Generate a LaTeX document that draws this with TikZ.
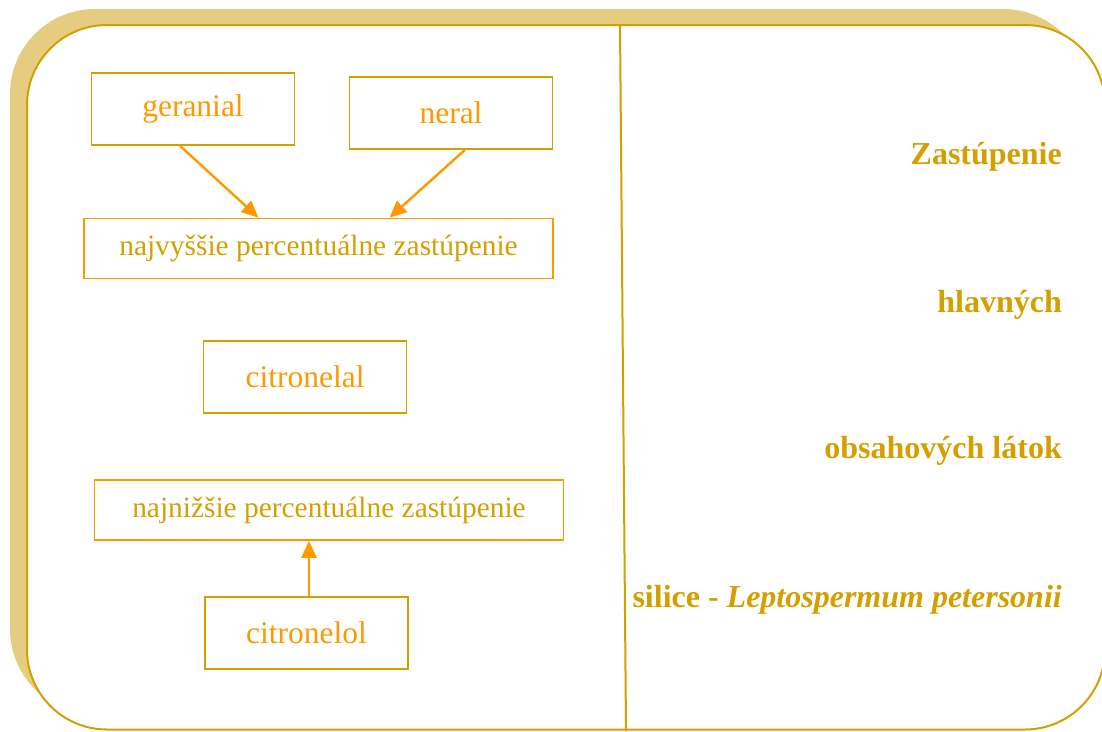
\documentclass[tikz,border=0pt]{standalone}
\usepackage{fontspec}
\setmainfont{Liberation Serif}
\usetikzlibrary{arrows.meta}
\definecolor{gold}{HTML}{D4A000}
\definecolor{paleGold}{HTML}{E6CC80}
\definecolor{amber}{HTML}{FF9900}

\begin{document}
\begin{tikzpicture}[x=1pt,y=-1pt,
  goldbox/.style={draw=gold,line width=1.6pt,text=amber,font=\fontsize{31.5}{36}\selectfont,
    minimum width=203pt,minimum height=72pt,inner sep=0pt},
  amberbox/.style={draw=amber,line width=1.6pt,text=gold,font=\fontsize{29.4}{34}\selectfont,
    minimum width=469pt,minimum height=60pt,inner sep=0pt},
  title/.style={anchor=base east,text=gold,font=\bfseries\fontsize{32}{38}\selectfont,inner sep=0pt},
  link/.style={amber,line width=2.4pt,-{Triangle[length=17pt,width=15pt]}}]
  \useasboundingbox (0,0) rectangle (1102,731);
  % frame with its shadow
  \fill[paleGold,rounded corners=85pt] (10,9) rectangle (1088,714);
  \filldraw[fill=white,draw=gold,line width=2pt,rounded corners=80pt] (27,25) rectangle (1105,729.5);
  \draw[gold,line width=2pt] (620,25) -- (626,731);

  \node[goldbox] (geranial) at (193,109) {geranial};
  \node[goldbox] (neral) at (451,113) {neral};
  \node[amberbox] (top) at (318.5,248.5) {najvyššie percentuálne zastúpenie};
  \node[goldbox] (citronelal) at (305,377) {citronelal};
  \node[amberbox] (bottom) at (329,510) {najnižšie percentuálne zastúpenie};
  \node[goldbox] (citronelol) at (306.5,633) {citronelol};
  \draw[link] ([xshift=-13pt]geranial.south) -- ([xshift=-60pt]top.north);
  \draw[link] ([xshift=14pt]neral.south) -- ([xshift=71pt]top.north);
  \draw[link] ([xshift=2.5pt]citronelol.north) -- ([xshift=-20pt]bottom.south);

  \node[title] (t1) at (1062,164) {Zastúpenie};
  \node[title] (t2) at (1062,312) {hlavných};
  \node[title] (t3) at (1062,458) {obsahových látok};
  \node[title] (t4) at (1062,607) {silice - \textit{Leptospermum petersonii}};
\end{tikzpicture}
\end{document}
